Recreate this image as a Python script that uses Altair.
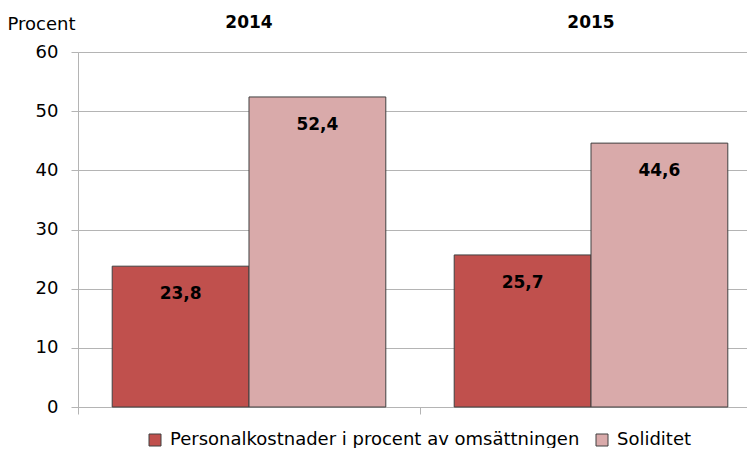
import altair as alt
import pandas as pd

years = ["2014", "2015"]
series = ["Personalkostnader i procent av omsättningen", "Soliditet"]
personal = [23.8, 25.7]
soliditet = [52.4, 44.6]
colors = ["#C0504D", "#D9AAAA"]
y_ticks = [0, 10, 20, 30, 40, 50, 60]

rows = []
for i, yr in enumerate(years):
    rows.append({"year": yr, "series": series[0], "value": personal[i]})
    rows.append({"year": yr, "series": series[1], "value": soliditet[i]})
df = pd.DataFrame(rows)
df["label"] = df["value"].map(lambda v: f"{v:.1f}".replace(".", ","))

FONT = "DejaVu Sans"
GRID = "#B4B4B4"

xscale = alt.Scale(domain=years, range=[0, 684], paddingInner=0, paddingOuter=0)
xoff = alt.XOffset("series:N", scale=alt.Scale(domain=series, paddingOuter=0.25, paddingInner=0))
yenc = alt.Y(
    "value:Q",
    scale=alt.Scale(domain=[0, 60]),
    axis=alt.Axis(
        values=y_ticks, grid=True, gridColor=GRID, domainColor=GRID, tickColor=GRID,
        tickSize=7, labelFontSize=18, labelFont=FONT, labelPadding=13, labelColor="#000000",
        title="Procent", titleAngle=0, titleAlign="left", titleBaseline="alphabetic",
        titleX=-71, titleY=-23, titleFontWeight="normal", titleFontSize=18, titleFont=FONT,
        titleColor="#000000",
    ),
)

base = alt.Chart(df)
bars = base.mark_bar(stroke="#404040", strokeWidth=1).encode(
    x=alt.X(
        "year:N", scale=xscale,
        axis=alt.Axis(orient="bottom", labels=False, title=None, bandPosition=0, tickSize=7,
                      tickColor=GRID, domainColor=GRID, grid=False),
    ),
    xOffset=xoff,
    y=yenc,
    color=alt.Color(
        "series:N",
        scale=alt.Scale(domain=series, range=colors),
        legend=alt.Legend(
            orient="none", legendX=68, legendY=379, direction="horizontal", title=None,
            symbolType="square", symbolSize=144, symbolStrokeColor="#404040",
            symbolStrokeWidth=1, labelFontSize=18, labelFont=FONT, labelColor="#000000",
            columnPadding=13, labelOffset=6, symbolOpacity=1, labelLimit=0,
        ),
    ),
)

text = base.mark_text(dy=28, fontWeight="bold", fontSize=17, font=FONT, color="#000000").encode(
    x=alt.X(
        "year:N", scale=xscale,
        axis=alt.Axis(orient="top", title=None, domain=False, ticks=False, tickSize=0,
                      labelFontWeight="bold", labelFontSize=17, labelFont=FONT,
                      labelColor="#000000", labelPadding=21, labelAngle=0, grid=False),
    ),
    xOffset=xoff,
    y=alt.Y("value:Q"),
    text="label:N",
)

chart = (
    alt.layer(bars, text)
    .resolve_axis(x="independent")
    .properties(
        width=669, height=355,
        padding={"left": 70, "top": 44, "right": 0, "bottom": 41},
        autosize=alt.AutoSizeParams(type="none"),
    )
    .configure_view(stroke=None)
    .configure(background="white")
)

chart.save("out.html", embed_options={"renderer": "svg", "actions": False})
